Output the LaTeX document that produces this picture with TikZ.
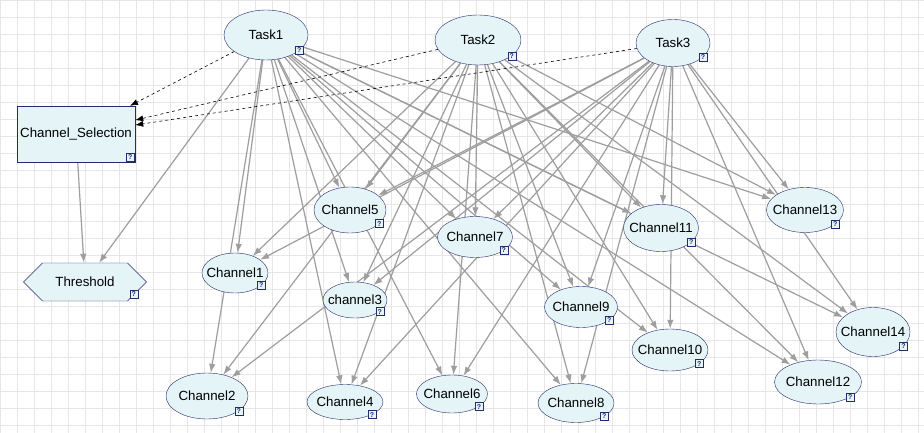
\documentclass[tikz,border=0pt]{standalone}
\usepackage{fontspec}
\setmainfont{Liberation Sans}
\usetikzlibrary{arrows.meta,shapes.geometric,shapes.symbols,backgrounds}

\definecolor{nodefill}{RGB}{228,244,247}
\definecolor{nodeline}{RGB}{38,42,110}
\definecolor{infgray}{RGB}{158,158,158}
\definecolor{gridgray}{RGB}{230,230,230}

% node text takes no room, the shape size is set by hand
\newcommand{\lbl}[1]{\makebox[0pt]{#1}}

\tikzset{
  chance/.style={ellipse, draw=nodeline, fill=nodefill, inner sep=0pt,
    font=\fontsize{13.3}{15}\selectfont},
  qicon/.style={draw=nodeline, fill=nodefill, inner sep=0pt, minimum size=8pt,
    font=\fontsize{7}{7}\selectfont\bfseries, text=nodeline},
  infl/.style={draw=infgray, line width=1.2pt, -{Latex[length=9pt,width=6.5pt]}},
  dep/.style={draw=black, dashed, line width=0.6pt, -{Latex[length=8pt,width=6pt]}},
}

\begin{document}
\begin{tikzpicture}[x=1pt,y=-1pt]
  \useasboundingbox (0,0) rectangle (924,433);
  \begin{scope}[on background layer]
    \fill[white] (0,0) rectangle (924,433);
    \draw[gridgray, line width=0.5pt, step=17pt] (0,433) grid (924,0);
  \end{scope}

  % Tasks
  \node[chance, minimum width=84pt, minimum height=50pt] (t1) at (266,35) {\lbl{Task1}};
  \node[chance, minimum width=86pt, minimum height=50pt] (t2) at (478,40) {\lbl{Task2}};
  \node[chance, minimum width=74pt, minimum height=47pt] (t3) at (673,43) {\lbl{Task3}};

  % Selection and threshold
  \node[draw=nodeline, fill=nodefill, minimum width=118pt, minimum height=56pt,
    font=\fontsize{13.3}{15}\selectfont] (sel) at (76,134) {\lbl{Channel\_Selection}};
  \node[signal, signal to=west and east, signal pointer angle=90, draw=nodeline,
    fill=nodefill, inner sep=0pt, minimum width=123pt, minimum height=38pt,
    font=\fontsize{13.3}{15}\selectfont] (thr) at (85,282) {\lbl{Threshold}};

  % Channels
  \node[chance, minimum width=66pt, minimum height=40pt] (c1) at (235,273) {\lbl{Channel1}};
  \node[chance, minimum width=82pt, minimum height=46pt] (c2) at (207,396) {\lbl{Channel2}};
  \node[chance, minimum width=64pt, minimum height=36pt] (c3) at (355,300) {\lbl{channel3}};
  \node[chance, minimum width=76pt, minimum height=35pt] (c4) at (345,402) {\lbl{Channel4}};
  \node[chance, minimum width=72pt, minimum height=46pt] (c5) at (350,210) {\lbl{Channel5}};
  \node[chance, minimum width=71pt, minimum height=38pt] (c6) at (452,394) {\lbl{Channel6}};
  \node[chance, minimum width=75pt, minimum height=41pt] (c7) at (475,237) {\lbl{Channel7}};
  \node[chance, minimum width=76pt, minimum height=39pt] (c8) at (576,403) {\lbl{Channel8}};
  \node[chance, minimum width=73pt, minimum height=41pt] (c9) at (581,307) {\lbl{Channel9}};
  \node[chance, minimum width=76pt, minimum height=42pt] (c10) at (670,350) {\lbl{Channel10}};
  \node[chance, minimum width=75pt, minimum height=47pt] (c11) at (661,228) {\lbl{Channel11}};
  \node[chance, minimum width=87pt, minimum height=44pt] (c12) at (818,382) {\lbl{Channel12}};
  \node[chance, minimum width=77pt, minimum height=45pt] (c13) at (805,210) {\lbl{Channel13}};
  \node[chance, minimum width=74pt, minimum height=49pt] (c14) at (873,332) {\lbl{Channel14}};

  % little ? boxes
  \foreach \n in {t1,t2,t3,c1,c2,c3,c4,c5,c6,c7,c8,c9,c10,c11,c12,c13,c14}
    \node[qicon] at (\n.-25) {?};
  \node[qicon] at ([shift={(-5,-5)}]sel.south east) {?};
  \node[qicon] at ([shift={(-13,12)}]thr.east) {?};

  % arcs, kept under the nodes
  \begin{scope}[on background layer]
    \foreach \t in {t1,t2,t3}
      \foreach \i in {1,...,14}
        \draw[infl] (\t) -- (c\i);
    \draw[infl] (sel) -- (thr);
    \draw[infl] (t1) -- (thr);
    \draw[dep] (t1) -- (sel);
    \draw[dep] (t2) -- (sel);
    \draw[dep] (t3) -- (sel);
  \end{scope}
\end{tikzpicture}
\end{document}
